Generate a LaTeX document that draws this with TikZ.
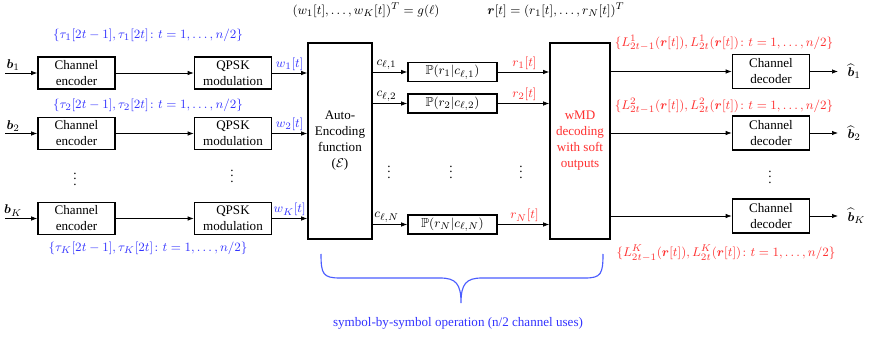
\documentclass[tikz,border=0pt]{standalone}
\usepackage{amsmath,amssymb}
\usepackage{fontspec}
\setmainfont{Liberation Serif}
\usepackage{tikz}
\usetikzlibrary{positioning,arrows.meta,calc}
\definecolor{sbBlue}{HTML}{3333FF}
\definecolor{sbRed}{HTML}{FF3030}
\definecolor{sbBrace}{HTML}{4A5CFF}

\begin{document}
\begin{tikzpicture}[
  x=0.025cm, y=-0.025cm,
  font=\fontsize{9.3}{11.4}\selectfont,
  blk/.style={draw=black, line width=1.1pt, align=center, inner sep=0pt,
              minimum width=1.925cm, minimum height=0.8cm},
  big/.style={draw=black, line width=1.1pt, align=center, inner sep=0pt,
              minimum height=4.9cm},
  pbox/.style={draw=black, line width=1.1pt, inner sep=0pt,
               minimum width=2.225cm, minimum height=0.475cm},
  flow/.style={-{Latex[length=1.5mm,width=1.1mm]}, line width=0.5pt},
  blab/.style={text=sbBlue, inner sep=1.5pt},
  rlab/.style={text=sbRed, inner sep=1.5pt},
  klab/.style={inner sep=1.5pt},
  dots/.style={inner sep=0pt},
  brc/.style={draw=sbBrace, line width=0.8pt},
]
\useasboundingbox (0,0) rectangle (872,339);

% ── Top formulas ──────────────────────────────────────────────────────────────
\node[klab] (gtop) at (366,10) {$(w_1[t],\dots,w_K[t])^T = g(\ell)$};
\node[klab] (rtop) at (556,10) {$\boldsymbol{r}[t] = (r_1[t],\dots,r_N[t])^T$};

% ── Central blocks ────────────────────────────────────────────────────────────
\node[big, minimum width=1.6cm] (ae) at (340,141) {Auto-\\Encoding\\function\\($\mathcal{E}$)};
\node[big, minimum width=1.5cm, text=sbRed] (wmd) at (580,141) {wMD\\decoding\\with soft\\outputs};

% ── Transmitters: encoder + QPSK per user ─────────────────────────────────────
\foreach \r/\y in {1/73,2/133.5,K/218.5}{
  \coordinate (in\r) at (5,\y);
  \node[blk] (enc\r)  at (76.5,\y) {Channel\\encoder};
  \node[blk] (qpsk\r) at (233,\y)  {QPSK\\modulation};
  \draw[flow] (in\r) -- (enc\r) node[klab, above, pos=0.25]{$\boldsymbol{b}_{\r}$};
  \draw[flow] (enc\r) -- (qpsk\r);
  \draw[flow] (qpsk\r) -- (qpsk\r -| ae.west) node[blab, above, pos=0.5]{$w_{\r}[t]$};
}
\node[blab] (tau1) at (148,35)  {$\{\tau_1[2t-1],\tau_1[2t]\colon t=1,\dots,n/2\}$};
\node[blab] (tau2) at (148,105) {$\{\tau_2[2t-1],\tau_2[2t]\colon t=1,\dots,n/2\}$};
\node[blab] (tauK) at (148,248) {$\{\tau_K[2t-1],\tau_K[2t]\colon t=1,\dots,n/2\}$};

% ── Channel transitions ───────────────────────────────────────────────────────
\foreach \r/\y in {1/72,2/103.5,N/224.5}{
  \node[pbox] (p\r) at (452.5,\y) {$\mathbb{P}(r_{\r}|c_{\ell,\r})$};
  \draw[flow] (p\r -| ae.east) -- (p\r) node[klab, above, pos=0.4]{$c_{\ell,\r}$};
  \draw[flow] (p\r) -- (p\r -| wmd.west) node[rlab, above, pos=0.52]{$r_{\r}[t]$};
}

% ── Receivers: decoders ───────────────────────────────────────────────────────
\foreach \r/\y in {1/71.5,2/133,K/216}{
  \node[blk, minimum height=0.85cm] (dec\r) at (771,\y) {Channel\\decoder};
  \coordinate (out\r) at (838,\y);
  \draw[flow] (dec\r -| wmd.east) -- (dec\r);
  \draw[flow] (dec\r) -- (out\r) node[klab, right, xshift=5pt]{$\widehat{\boldsymbol{b}}_{\r}$};
}
\node[rlab] (llr1) at (724,43)  {$\{L^1_{2t-1}(\boldsymbol{r}[t]),L^1_{2t}(\boldsymbol{r}[t])\colon t=1,\dots,n/2\}$};
\node[rlab] (llr2) at (724,106) {$\{L^2_{2t-1}(\boldsymbol{r}[t]),L^2_{2t}(\boldsymbol{r}[t])\colon t=1,\dots,n/2\}$};
\node[rlab] (llrK) at (726,253) {$\{L^K_{2t-1}(\boldsymbol{r}[t]),L^K_{2t}(\boldsymbol{r}[t])\colon t=1,\dots,n/2\}$};

% ── Vertical dots ─────────────────────────────────────────────────────────────
\node[dots] (d1) at (75,175)  {$\vdots$};
\node[dots] (d2) at (232,172) {$\vdots$};
\node[dots] (d3) at (389,168) {$\vdots$};
\node[dots] (d4) at (451,168) {$\vdots$};
\node[dots] (d5) at (521,168) {$\vdots$};
\node[dots] (d6) at (770,173) {$\vdots$};

% ── Brace ─────────────────────────────────────────────────────────────────────
\draw[brc] (321,254) .. controls (321,274) and (323,278) .. (340,278) -- (440,278)
  .. controls (456,278) and (461,284) .. (461,303)
  .. controls (461,284) and (466,278) .. (482,278) -- (585,278)
  .. controls (601,278) and (603,274) .. (603,254);
\node[text=sbBlue] (ops) at (458,323) {symbol-by-symbol operation (n/2 channel uses)};

\end{tikzpicture}
\end{document}
